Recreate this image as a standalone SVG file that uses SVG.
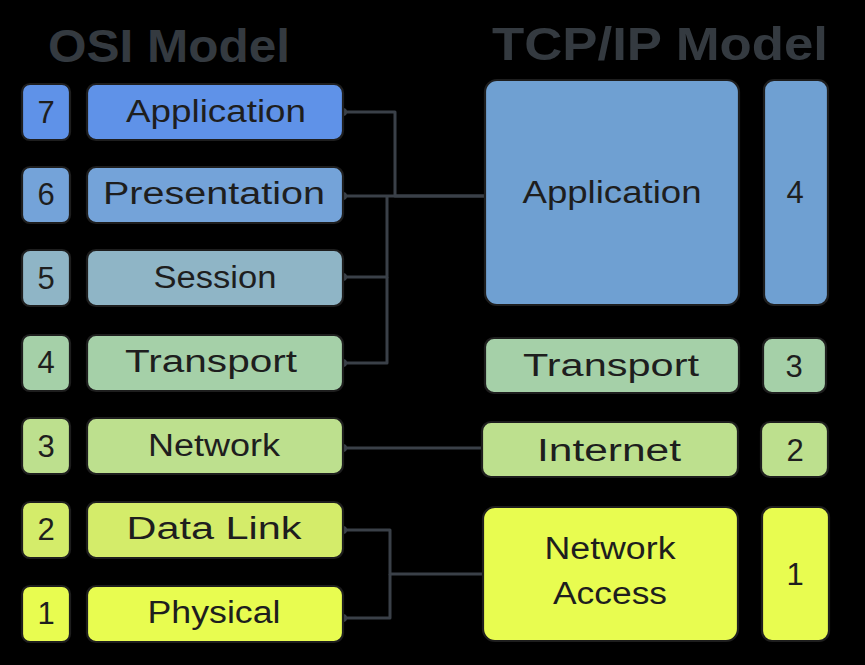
<svg xmlns="http://www.w3.org/2000/svg" width="865" height="665" viewBox="0 0 865 665">
<style>
.box{stroke:#1e1e1e;stroke-width:2.2}
.t{font-family:"Liberation Sans",Arial,sans-serif;font-size:31px;fill:#1e1e1e;text-anchor:middle}
.n{font-family:"Liberation Sans",Arial,sans-serif;font-size:31px;fill:#1e1e1e;text-anchor:middle}
.title{font-family:"Liberation Sans",Arial,sans-serif;font-size:46px;font-weight:bold;fill:#343a40}
.c{fill:none;stroke:#3a4048;stroke-width:3;stroke-linejoin:round}
.dot{fill:#3a4048}
</style>
<rect x="0" y="0" width="865" height="665" fill="#000000"/>
<g id="titles">
<text class="title" x="48" y="62" textLength="242" lengthAdjust="spacingAndGlyphs">OSI Model</text>
<text class="title" x="492" y="60" textLength="336" lengthAdjust="spacingAndGlyphs">TCP/IP Model</text>
</g>
<g id="connectors">
<path class="c" d="M343,112 H395 V196 H485"/>
<path class="c" d="M343,196 H485"/>
<path class="c" d="M343,277 H387 V196"/>
<path class="c" d="M343,363 H387 V277"/>
<path class="c" d="M343,448 H482"/>
<path class="c" d="M343,530 H390 V574 H483"/>
<path class="c" d="M343,618 H390 V574"/>
<circle class="dot" cx="343" cy="112" r="4"/>
<circle class="dot" cx="343" cy="196" r="4"/>
<circle class="dot" cx="343" cy="277" r="4"/>
<circle class="dot" cx="343" cy="363" r="4"/>
<circle class="dot" cx="343" cy="448" r="4"/>
<circle class="dot" cx="343" cy="530" r="4"/>
<circle class="dot" cx="343" cy="618" r="4"/>
</g>
<g id="osi7">
<rect class="box" x="22" y="84" width="48" height="56" rx="8" fill="#5f92e8"/>
<text class="n" x="46" y="123">7</text>
<rect class="box" x="87" y="84" width="256" height="56" rx="9" fill="#5f92e8"/>
<text class="t" x="216" y="122" textLength="180" lengthAdjust="spacingAndGlyphs">Application</text>
</g>
<g id="osi6">
<rect class="box" x="22" y="167" width="48" height="56" rx="8" fill="#74a3d9"/>
<text class="n" x="46" y="205">6</text>
<rect class="box" x="87" y="167" width="256" height="56" rx="9" fill="#74a3d9"/>
<text class="t" x="214" y="204" textLength="222" lengthAdjust="spacingAndGlyphs">Presentation</text>
</g>
<g id="osi5">
<rect class="box" x="22" y="250" width="48" height="56" rx="8" fill="#8fb5c6"/>
<text class="n" x="46" y="289">5</text>
<rect class="box" x="87" y="250" width="256" height="56" rx="9" fill="#8fb5c6"/>
<text class="t" x="215" y="288" textLength="123" lengthAdjust="spacingAndGlyphs">Session</text>
</g>
<g id="osi4">
<rect class="box" x="22" y="335" width="48" height="56" rx="8" fill="#a5d0a8"/>
<text class="n" x="46" y="373">4</text>
<rect class="box" x="87" y="335" width="256" height="56" rx="9" fill="#a5d0a8"/>
<text class="t" x="211" y="372" textLength="172" lengthAdjust="spacingAndGlyphs">Transport</text>
</g>
<g id="osi3">
<rect class="box" x="22" y="418" width="48" height="56" rx="8" fill="#bde08e"/>
<text class="n" x="46" y="457">3</text>
<rect class="box" x="87" y="418" width="256" height="56" rx="9" fill="#bde08e"/>
<text class="t" x="214" y="456" textLength="132" lengthAdjust="spacingAndGlyphs">Network</text>
</g>
<g id="osi2">
<rect class="box" x="22" y="502" width="48" height="56" rx="8" fill="#d4ec6a"/>
<text class="n" x="46" y="540">2</text>
<rect class="box" x="87" y="502" width="256" height="56" rx="9" fill="#d4ec6a"/>
<text class="t" x="214" y="539" textLength="175" lengthAdjust="spacingAndGlyphs">Data Link</text>
</g>
<g id="osi1">
<rect class="box" x="22" y="586" width="48" height="56" rx="8" fill="#e8fc50"/>
<text class="n" x="46" y="624">1</text>
<rect class="box" x="87" y="586" width="256" height="56" rx="9" fill="#e8fc50"/>
<text class="t" x="214" y="623" textLength="133" lengthAdjust="spacingAndGlyphs">Physical</text>
</g>
<g id="tcp4">
<rect class="box" x="485" y="80" width="254" height="225" rx="12" fill="#6fa0d2"/>
<text class="t" x="612" y="203" textLength="179" lengthAdjust="spacingAndGlyphs">Application</text>
<rect class="box" x="764" y="80" width="64" height="225" rx="10" fill="#6fa0d2"/>
<text class="n" x="795" y="203">4</text>
</g>
<g id="tcp3">
<rect class="box" x="485" y="338" width="254" height="55" rx="9" fill="#a5d0a8"/>
<text class="t" x="611" y="376" textLength="176" lengthAdjust="spacingAndGlyphs">Transport</text>
<rect class="box" x="763" y="338" width="63" height="55" rx="9" fill="#a5d0a8"/>
<text class="n" x="794" y="377">3</text>
</g>
<g id="tcp2">
<rect class="box" x="482" y="422" width="256" height="55" rx="9" fill="#bde08e"/>
<text class="t" x="609" y="461" textLength="144" lengthAdjust="spacingAndGlyphs">Internet</text>
<rect class="box" x="761" y="422" width="67" height="55" rx="9" fill="#bde08e"/>
<text class="n" x="795" y="461">2</text>
</g>
<g id="tcp1">
<rect class="box" x="483" y="507" width="255" height="134" rx="12" fill="#e8fc50"/>
<text class="t" x="610" y="559" textLength="131" lengthAdjust="spacingAndGlyphs">Network</text>
<text class="t" x="610" y="604" textLength="114" lengthAdjust="spacingAndGlyphs">Access</text>
<rect class="box" x="762" y="507" width="67" height="134" rx="10" fill="#e8fc50"/>
<text class="n" x="795" y="585">1</text>
</g>
</svg>
